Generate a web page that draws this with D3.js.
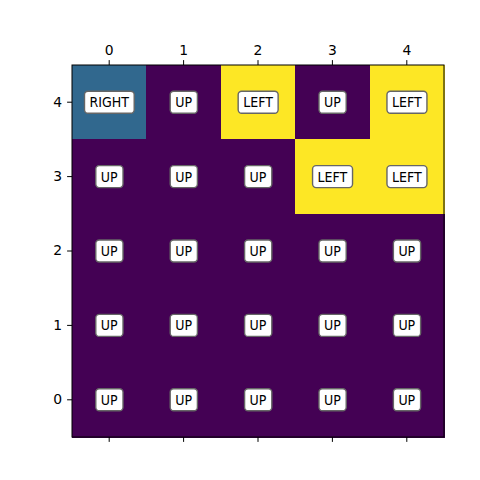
<!DOCTYPE html>
<html>
<head>
<meta charset="utf-8">
<script src="https://cdn.jsdelivr.net/npm/d3@7"></script>
<style>
body { margin: 0; background: #fff; }
text { font-family: "DejaVu Sans", sans-serif; }
</style>
</head>
<body>
<svg width="480" height="480"></svg>
<script>
// grid rows listed from top (row 4) to bottom (row 0)
let rows = [4, 3, 2, 1, 0];
let cols = [0, 1, 2, 3, 4];
let actions = ['UP', 'RIGHT', 'DOWN', 'LEFT'];
let policy = [
	['RIGHT', 'UP', 'LEFT', 'UP', 'LEFT'],
	['UP', 'UP', 'UP', 'LEFT', 'LEFT'],
	['UP', 'UP', 'UP', 'UP', 'UP'],
	['UP', 'UP', 'UP', 'UP', 'UP'],
	['UP', 'UP', 'UP', 'UP', 'UP']
];

var svg = d3.select('svg');
let plotLeft = 72, plotTop = 65, size = 372;

var x = d3.scaleBand().domain(cols).range([plotLeft, plotLeft + size]);
var y = d3.scaleBand().domain(rows).range([plotTop, plotTop + size]);
var color = d3.scaleSequential(d3.interpolateViridis).domain([0, actions.length - 1]);

let cells = [];
rows.forEach(function(r, i) {
	cols.forEach(function(c, j) {
		cells.push({row: r, col: c, action: policy[i][j]});
	});
});

svg.append('g')
	.attr('shape-rendering', 'crispEdges')
	.selectAll('rect')
	.data(cells)
	.join('rect')
	.attr('x', function(d) { return x(d.col); })
	.attr('y', function(d) { return y(d.row); })
	.attr('width', x.bandwidth() + 1)
	.attr('height', y.bandwidth() + 1)
	.attr('fill', function(d) { return color(actions.indexOf(d.action)); });

// labels with rounded boxes
var labels = svg.append('g')
	.selectAll('g')
	.data(cells)
	.join('g')
	.attr('transform', function(d) {
		return 'translate(' + (x(d.col) + x.bandwidth() / 2) + ',' + (y(d.row) + y.bandwidth() / 2) + ')';
	});

labels.append('text')
	.attr('text-anchor', 'middle')
	.attr('dy', '0.36em')
	.attr('font-size', 14)
	.attr('font-family', '"DejaVu Sans Condensed", "DejaVu Sans", sans-serif')
	.attr('font-stretch', 'condensed')
	.attr('fill', '#000')
	.text(function(d) { return d.action; });

labels.each(function() {
	let g = d3.select(this);
	let b = g.select('text').node().getBBox();
	g.insert('rect', 'text')
		.attr('x', b.x - 5)
		.attr('y', -11)
		.attr('width', b.width + 10)
		.attr('height', 22)
		.attr('rx', 3.5)
		.attr('fill', '#fff')
		.attr('stroke', '#666')
		.attr('stroke-width', 1.4);
});

// axes
svg.append('g')
	.attr('transform', 'translate(0,' + plotTop + ')')
	.call(d3.axisTop(x).tickSize(4.9).tickPadding(5));
svg.append('g')
	.attr('transform', 'translate(0,' + (plotTop + size) + ')')
	.call(d3.axisBottom(x).tickSize(4.9).tickFormat(''));
svg.append('g')
	.attr('transform', 'translate(' + plotLeft + ',0)')
	.call(d3.axisLeft(y).tickSize(4.9).tickPadding(5));

svg.selectAll('.domain').remove();
svg.selectAll('.tick text').attr('font-size', 13.9).attr('font-family', 'DejaVu Sans').attr('fill', '#000');
svg.selectAll('.tick line').attr('stroke', '#000').attr('stroke-width', 1);

svg.append('rect')
	.attr('x', plotLeft)
	.attr('y', plotTop)
	.attr('width', size)
	.attr('height', size)
	.attr('fill', 'none')
	.attr('stroke', '#000')
	.attr('stroke-width', 1);
</script>
</body>
</html>
